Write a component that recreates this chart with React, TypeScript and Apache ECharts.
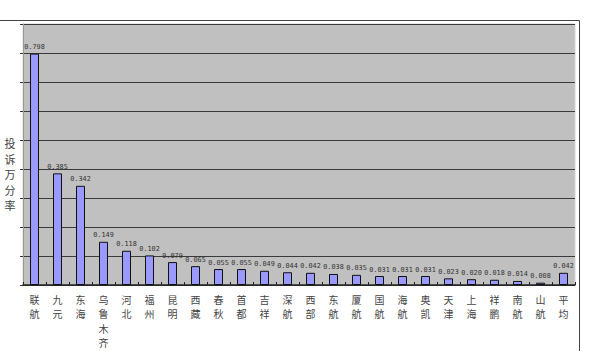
import React, { useEffect, useRef } from "react";
import * as echarts from "echarts";

const categories = ["联航", "九元", "东海", "乌鲁木齐", "河北", "福州", "昆明", "西藏", "春秋", "首都", "吉祥", "深航", "西部", "东航", "厦航", "国航", "海航", "奥凯", "天津", "上海", "祥鹏", "南航", "山航", "平均"];
const values = [0.798, 0.385, 0.342, 0.149, 0.118, 0.102, 0.079, 0.065, 0.055, 0.055, 0.049, 0.044, 0.042, 0.038, 0.035, 0.031, 0.031, 0.031, 0.023, 0.020, 0.018, 0.014, 0.008, 0.042];
const yAxisTitle = "投诉万分率";

export default function App() {
  const ref = useRef<HTMLDivElement>(null);
  useEffect(() => {
    if (!ref.current) return;
    const chart = echarts.init(ref.current, null, { renderer: "svg" });
    chart.setOption({
      animation: false,
      backgroundColor: "#ffffff",
      grid: {
        left: 23,
        top: 24,
        right: 15,
        bottom: 66,
        show: true,
        backgroundColor: "#C0C0C0",
        borderColor: "#d4d4d4",
        borderWidth: 1,
      },
      xAxis: {
        type: "category",
        data: categories,
        axisLine: { lineStyle: { color: "#222", width: 1.5 } },
        axisTick: { show: true, inside: true, length: 3, lineStyle: { color: "#222" } },
        axisLabel: {
          interval: 0,
          margin: 7,
          fontSize: 10,
          lineHeight: 14.5,
          color: "#444",
          fontFamily: "Noto Sans CJK SC",
          formatter: (v: string) => v.split("").join("\n"),
        },
      },
      yAxis: {
        type: "value",
        min: 0,
        max: 0.9,
        interval: 0.1,
        axisLabel: { show: false },
        axisLine: { show: true, lineStyle: { color: "#9a9a9a", width: 1 } },
        axisTick: { show: true, length: 3, lineStyle: { color: "#333" } },
        splitLine: { show: true, lineStyle: { color: "#3a3a3a", width: 1.2 } },
      },
      series: [
        {
          type: "bar",
          data: values,
          barWidth: 9,
          itemStyle: { color: "#9999FF", borderColor: "#111", borderWidth: 1 },
          label: {
            show: true,
            position: "top",
            distance: 3,
            fontSize: 6.8,
            fontFamily: "DejaVu Sans Mono",
            color: "#333",
            formatter: (p: any) => p.value.toFixed(3),
          },
        },
      ],
      graphic: [
        {
          type: "polyline",
          shape: { points: [[0, 20.5], [579.5, 20.5], [579.5, 351]] },
          style: { stroke: "#444", lineWidth: 1, fill: "none" },
          silent: true,
        },
        {
          type: "text",
          x: 10,
          y: 174,
          style: {
            text: yAxisTitle.split("").join("\n"),
            font: "11px 'Noto Sans CJK SC'",
            lineHeight: 15.5,
            fill: "#444",
            textAlign: "center",
            textVerticalAlign: "middle",
          },
        },
      ],
    });
    return () => chart.dispose();
  }, []);
  return <div ref={ref} style={{ position: "fixed", left: 0, top: 0, width: 590, height: 351 }} />;
}
